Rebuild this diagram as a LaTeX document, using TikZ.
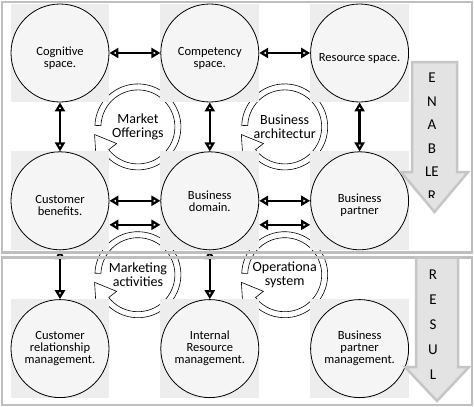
\documentclass[tikz,border=0pt]{standalone}
\usepackage{fontspec}
\setmainfont{Carlito}
\usetikzlibrary{arrows.meta, positioning, calc}

\pgfdeclarelayer{bg}
\pgfdeclarelayer{rings}
\pgfdeclarelayer{boxes}
\pgfsetlayers{bg,rings,boxes,main}

\begin{document}
\begin{tikzpicture}[
    x=1pt, y=1pt,
    node distance=49pt and 51pt,
    unit/.style={draw, circle, line width=0.8pt, fill=gray!8, minimum size=98pt, inner sep=0pt, align=center, font=\fontsize{12.5}{12}\selectfont},
    arrow/.style={<->, >={Triangle[open, length=9pt, width=10pt, line width=2.2pt]}, line width=2.6pt},
    ringtext/.style={align=center, font=\fontsize{14}{14.5}\selectfont},
    ring/.style={fill=white, draw=black, line width=0.6pt},
    panel/.style={draw=gray!50, line width=2.5pt},
    bigarrow/.style={fill=gray!22, draw=gray!45, line width=2.5pt},
    arrowtext/.style={align=center, inner sep=0pt, anchor=north, font=\fontsize{15}{#1}\selectfont}
]
\useasboundingbox (0,0) rectangle (474,-407);

% the nine units
\node[unit] (cog) at (60,-53) {\mbox{}\\[8pt]Cognitive\\space.};
\node[unit, right=of cog] (comp) {\mbox{}\\[8pt]Competency\\space.};
\node[unit, right=of comp] (res) {\mbox{}\\[8pt]Resource space.};
\node[unit, below=of cog] (cb) {\mbox{}\\[6pt]Customer\\benefits.};
\node[unit, below=of comp] (bd) {Business\\domain.};
\node[unit, below=of res] (bp) {\mbox{}\\[6pt]Business\\partner};
\node[unit, below=of cb] (crm) {Customer\\relationship\\management.};
\node[unit, below=of bd] (irm) {Internal\\Resource\\management.};
\node[unit, below=of bp] (bpm) {Business\\partner\\management.};

% cycles between the units
\node[ringtext, xshift=3pt] (mo) at ($(cog)!0.5!(bd)$) {Market\\Offerings};
\node[ringtext] (ba) at ($(comp)!0.5!(bp)$) {Business\\architectur};
\node[ringtext, xshift=3pt] (ma) at ($(cb)!0.5!(irm)$) {Marketing\\activities};
\node[ringtext] (os) at ($(bd)!0.5!(bpm)$) {Operationa\\system};

\foreach \from/\to in {cog/comp, comp/res, cog/cb, comp/bd, res/bp, cb/bd, bd/bp, cb/crm, bd/irm}
    \draw[arrow] (\from) -- (\to);
\draw[arrow] ([yshift=-24pt]cb.east) -- ([yshift=-24pt]bd.west);
\draw[arrow] ([yshift=-24pt]bd.east) -- ([yshift=-24pt]bp.west);

\begin{pgfonlayer}{boxes}
\foreach \n in {cog, comp, res, cb, bd, bp, crm, irm, bpm}
    \fill[gray!14] (\n.west |- \n.north) rectangle (\n.east |- \n.south);
\end{pgfonlayer}

\begin{pgfonlayer}{rings}
\foreach \r in {mo, ba, ma, os}
    \draw[ring, shift={(\r.center)}] (178:43pt) arc[start angle=178, end angle=-142, radius=43pt]
        -- (-142:53pt) -- (190:44pt) -- (-142:27pt) -- (-142:37pt)
        arc[start angle=-142, end angle=178, radius=37pt] -- cycle;
\end{pgfonlayer}

\begin{pgfonlayer}{bg}
\fill[white] (0,0) rectangle (474,-407);
\end{pgfonlayer}

% panels
\draw[panel] (2,-2) rectangle (472,-252.5);
\draw[panel] (2,-257.5) rectangle (472,-405);

% side arrows
\draw[bigarrow] (412,-62) -- (457,-62) -- (457,-172) -- (468,-172) -- (434.5,-212) -- (401,-172) -- (412,-172) -- cycle;
\begin{scope}
\clip (400,-60) rectangle (470,-197);
\node[arrowtext=23.5] (enabler) at (432,-73) {E\\N\\A\\B\\LE\\R};
\end{scope}
\draw[bigarrow] (416,-257.5) -- (458,-257.5) -- (458,-367) -- (469,-367) -- (437,-401) -- (405,-367) -- (416,-367) -- cycle;
\node[arrowtext=25] (result) at (433,-270) {R\\E\\S\\U\\L};

\end{tikzpicture}
\end{document}
